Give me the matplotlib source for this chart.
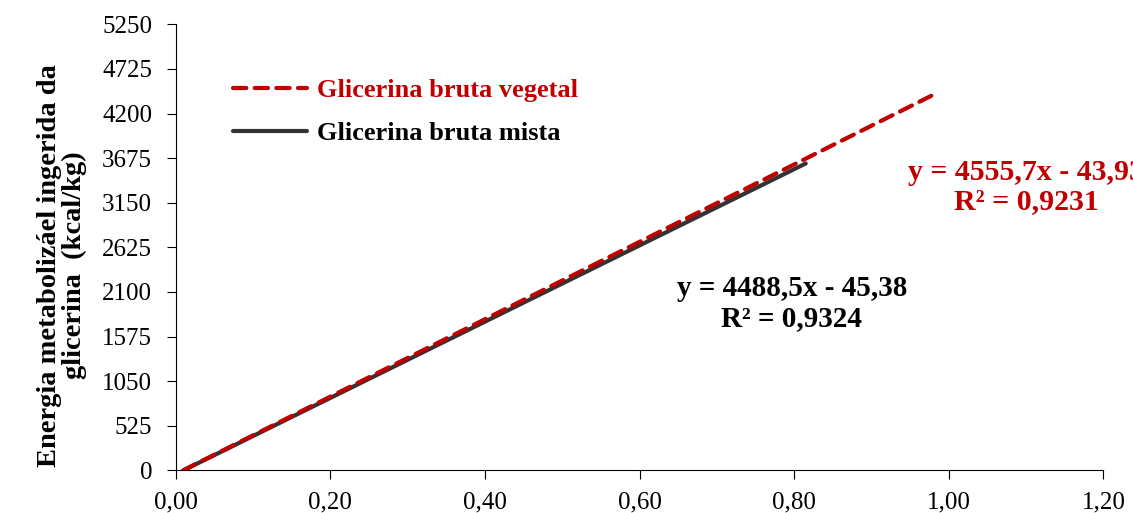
import matplotlib.pyplot as plt

plt.rcParams['font.family'] = ['Liberation Serif', 'DejaVu Serif']

# trend lines (end points)
x_vegetal = [0.0096, 0.985]
y_vegetal = [0, 4443]
x_mista = [0.0101, 0.815]
y_mista = [0, 3612]

x_ticks = [0.0, 0.2, 0.4, 0.6, 0.8, 1.0, 1.2]
x_labels = ['0,00', '0,20', '0,40', '0,60', '0,80', '1,00', '1,20']
y_ticks = [0, 525, 1050, 1575, 2100, 2625, 3150, 3675, 4200, 4725, 5250]

red = '#C00000'
dark = '#333333'

fig = plt.figure(figsize=(11.33, 5.13), dpi=100)
ax = fig.add_axes([0.1551, 0.0832, 0.8187, 0.8694])

ax.plot(x_vegetal, y_vegetal, color=red, lw=3, dashes=(3.2, 2.0),
        dash_capstyle='round', label='Glicerina bruta vegetal', zorder=3)
ax.plot(x_mista, y_mista, color=dark, lw=3, solid_capstyle='round',
        label='Glicerina bruta mista', zorder=2)

ax.set_xlim(0, 1.2)
ax.set_ylim(0, 5250)
ax.set_xticks(x_ticks)
ax.set_xticklabels(x_labels)
ax.set_yticks(y_ticks)
ax.tick_params(labelsize=18, length=6.5, direction='out')
ax.tick_params(axis='y', pad=10.5)
ax.tick_params(axis='x', pad=9)
for s in ['top', 'right']:
    ax.spines[s].set_visible(False)

ax.set_ylabel('Energia metabolizáel ingerida da\nglicerina  (kcal/kg)',
              fontsize=20.5, fontweight='bold', linespacing=1.0)
ax.yaxis.set_label_coords(-0.096, 0.46)

leg = ax.legend(loc='upper left', bbox_to_anchor=(0.036, 0.932), frameon=False,
                prop={'weight': 'bold', 'size': 19},
                handlelength=2.8, handletextpad=0.4, labelspacing=0.75)
leg.get_texts()[0].set_color(red)
leg.get_texts()[1].set_color('black')

ax.text(1.1, 3335, 'y = 4555,7x - 43,93\nR² = 0,9231', color=red,
        fontsize=21.5, fontweight='bold', ha='center', va='center',
        linespacing=1.1, clip_on=False)
ax.text(0.797, 1963, 'y = 4488,5x - 45,38\nR² = 0,9324', color='black',
        fontsize=21, fontweight='bold', ha='center', va='center',
        linespacing=1.12, clip_on=False)

fig.savefig('out.png', dpi=100)
